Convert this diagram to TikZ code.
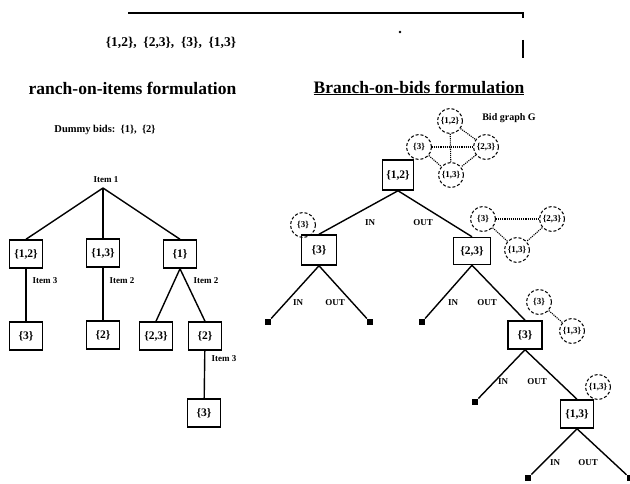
\documentclass[tikz,border=0pt]{standalone}
\usepackage{fontspec}
\setmainfont{Liberation Serif}
\begin{document}
\begin{tikzpicture}[x=1pt,y=-1pt,
  boxn/.style={draw,line width=1.5pt,minimum width=33pt,minimum height=28pt,inner sep=1pt,font=\bfseries\fontsize{11.5}{13}\selectfont},
  bidc/.style={circle,draw,densely dashed,line width=1pt,minimum size=25pt,inner sep=0.3pt,font=\bfseries\fontsize{9}{10}\selectfont},
  leafn/.style={fill,minimum size=6.5pt,inner sep=0pt},
  lbl/.style={font=\bfseries\fontsize{9}{11}\selectfont,inner sep=1pt},
  edge/.style={line width=1.4pt},
  bidedge/.style={densely dotted,line width=1.1pt},
  titlen/.style={font=\bfseries\fontsize{17.5}{20}\selectfont,inner sep=1pt}]
\useasboundingbox (0,0) rectangle (630,484);
% top
\coordinate (tl) at (128,13);
\coordinate (tr) at (523,13);
\coordinate (trt) at (523,18);
\draw[line width=1.6pt] (tl) -- (tr) -- (trt);
\node[font=\bfseries\fontsize{13.5}{16}\selectfont,inner sep=0pt] (bids) at (171,43) {\{1,2\},\ \ \{2,3\},\ \ \{3\},\ \ \{1,3\}};
\fill (400,32) circle (1.3pt);
\coordinate (vb1) at (523,40);
\coordinate (vb2) at (523,58);
\draw[line width=1.6pt] (vb1) -- (vb2);
% titles
\node[titlen] (tleft) at (132.5,88) {ranch-on-items formulation};
\node[titlen] (tright) at (419,88) {\underline{Branch-on-bids formulation}};
\node[font=\bfseries\fontsize{10.5}{12}\selectfont] (dummy) at (105,130) {Dummy bids:\ \ \{1\},\ \ \{2\}};
% left tree
\node[lbl] (item1) at (106,180) {Item 1};
\coordinate (apex) at (103,188);
\node[boxn] (a12) at (26,254) {\{1,2\}};
\node[boxn] (a13) at (103,253) {\{1,3\}};
\node[boxn] (a1) at (180,254) {\{1\}};
\draw[edge] (apex) -- (a12.north);
\draw[edge] (apex) -- (a13.north);
\draw[edge] (apex) -- (a1.north);
\node[lbl] (li3) at (45,281) {Item 3};
\node[lbl] (li2) at (122,281) {Item 2};
\node[lbl] (li2b) at (206,281) {Item 2};
\node[boxn] (c3) at (26,336) {\{3\}};
\node[boxn] (c2) at (103,335) {\{2\}};
\node[boxn] (c23) at (156,336) {\{2,3\}};
\node[boxn] (c2b) at (205,336) {\{2\}};
\node[boxn] (c3b) at (204,413) {\{3\}};
\draw[edge] (a12) -- (c3);
\draw[edge] (a13) -- (c2);
\draw[edge] (a1.south) -- (c23.north);
\draw[edge] (a1.south) -- (c2b.north);
\draw[edge] (c2b) -- (c3b);
\node[lbl] (li3b) at (224,359) {Item 3};
% bid graph G
\node[bidc] (g12) at (450,121) {\{1,2\}};
\node[bidc] (g3) at (419,147) {\{3\}};
\node[bidc] (g23) at (486,147) {\{2,3\}};
\node[bidc] (g13) at (451,175) {\{1,3\}};
\node[font=\bfseries\fontsize{10}{12}\selectfont] (gl) at (509,118) {Bid graph G};
\draw[bidedge] (g3) -- (g23);
\draw[bidedge] (g12) -- (g13);
\draw[bidedge] (g12) -- (g23);
\draw[bidedge] (g3) -- (g13);
\draw[bidedge] (g23) -- (g13);
% right tree
\node[boxn,minimum width=31pt,minimum height=30pt] (r12) at (398,175) {\{1,2\}};
\node[boxn,minimum width=35pt,minimum height=30pt] (r3) at (319,250) {\{3\}};
\node[boxn,minimum width=37pt,minimum height=27pt] (r23) at (472,251) {\{2,3\}};
\draw[edge] (r12.south) -- (r3.north);
\draw[edge] (r12.south) -- (r23.north);
\node[lbl] (in1) at (370,223) {IN};
\node[lbl] (out1) at (423,223) {OUT};
\node[bidc] (s3) at (303,225) {\{3\}};
\node[bidc] (h3) at (483,219) {\{3\}};
\node[bidc] (h23) at (552,219) {\{2,3\}};
\node[bidc] (h13) at (517,250) {\{1,3\}};
\draw[bidedge] (h3) -- (h23);
\draw[bidedge] (h3) -- (h13);
\draw[bidedge] (h23) -- (h13);
\node[leafn] (l1) at (268,322) {};
\node[leafn] (l2) at (370,322) {};
\draw[edge] (r3.south) -- (l1);
\draw[edge] (r3.south) -- (l2);
\node[lbl] (in2) at (298,303) {IN};
\node[lbl] (out2) at (335,303) {OUT};
\node[leafn] (l3) at (422,322) {};
\node[boxn,minimum width=34pt] (r3b) at (525,335) {\{3\}};
\draw[edge] (r23.south) -- (l3);
\draw[edge] (r23.south) -- (r3b.north);
\node[lbl] (in3) at (453,303) {IN};
\node[lbl] (out3) at (487,303) {OUT};
\node[bidc] (k3) at (539,302) {\{3\}};
\node[bidc] (k13) at (572,331) {\{1,3\}};
\draw[bidedge] (k3) -- (k13);
\node[leafn] (l4) at (475,402) {};
\node[boxn] (r13) at (577,414) {\{1,3\}};
\draw[edge] (r3b.south) -- (l4);
\draw[edge] (r3b.south) -- (r13.north);
\node[lbl] (in4) at (503,382) {IN};
\node[lbl] (out4) at (537,382) {OUT};
\node[bidc] (m13) at (598,387) {\{1,3\}};
\node[leafn] (l5) at (528,478) {};
\node[leafn] (l6) at (630,478) {};
\draw[edge] (r13.south) -- (l5);
\draw[edge] (r13.south) -- (l6);
\node[lbl] (in5) at (555,463) {IN};
\node[lbl] (out5) at (588,463) {OUT};
\end{tikzpicture}
\end{document}
